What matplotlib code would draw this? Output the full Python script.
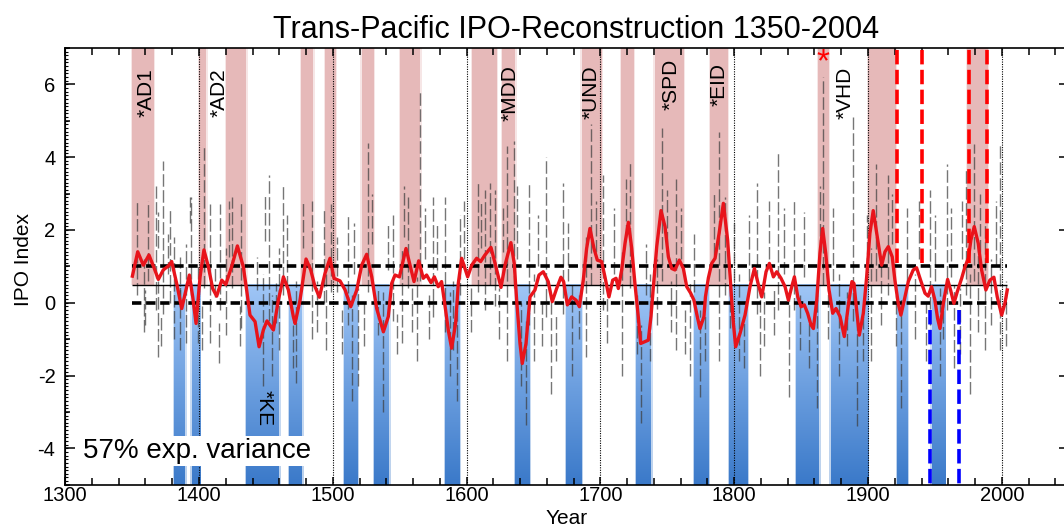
import numpy as np
import matplotlib
matplotlib.use("Agg")
import matplotlib.pyplot as plt
from matplotlib.colors import LinearSegmentedColormap
from matplotlib.ticker import MultipleLocator

plt.rcParams["font.family"] = ["Liberation Sans", "DejaVu Sans"]
plt.rcParams["axes.unicode_minus"] = False

# smoothed IPO reconstruction (red line)
ipo_years = [1350.2, 1354.2, 1358.4, 1362.6, 1366.6, 1369.6, 1373.3, 1377.1, 1379.6, 1383.3,
             1387.1, 1390.3, 1392.8, 1395.3, 1397.8, 1400.8, 1403.7, 1407.0, 1410.2, 1413.2,
             1417.0, 1420.0, 1424.4, 1428.7, 1433.1, 1435.6, 1438.1, 1441.9, 1444.9, 1448.1,
             1450.8, 1455.6, 1459.3, 1463.1, 1466.8, 1470.5, 1471.8, 1475.5, 1480.0, 1483.5,
             1486.7, 1490.0, 1494.2, 1497.9, 1500.9, 1505.4, 1509.2, 1513.4, 1517.9, 1521.6,
             1525.3, 1529.1, 1532.8, 1537.8, 1541.5, 1544.0, 1546.5, 1549.8, 1554.7, 1557.7,
             1560.7, 1564.2, 1567.6, 1570.1, 1573.4, 1575.9, 1578.8, 1581.3, 1584.3, 1586.3,
             1588.8, 1591.8, 1593.8, 1596.3, 1598.8, 1600.8, 1603.8, 1607.5, 1610.5, 1613.7,
             1618.2, 1621.9, 1625.7, 1628.7, 1633.1, 1635.6, 1637.4, 1639.9, 1641.6, 1644.4,
             1647.4, 1651.1, 1654.1, 1657.3, 1661.0, 1664.0, 1667.3, 1670.5, 1672.5, 1675.3,
             1678.5, 1681.8, 1684.3, 1687.2, 1689.7, 1692.2, 1695.2, 1697.7, 1700.9, 1703.4,
             1706.4, 1709.2, 1711.7, 1713.4, 1715.9, 1718.4, 1720.9, 1723.4, 1725.9, 1728.3,
             1730.1, 1733.3, 1735.8, 1737.8, 1739.6, 1742.1, 1745.3, 1748.3, 1750.8, 1753.3,
             1755.7, 1759.0, 1762.0, 1764.5, 1767.5, 1769.9, 1772.4, 1774.4, 1777.4, 1778.5,
             1780.7, 1783.2, 1785.7, 1788.7, 1791.9, 1795.1, 1797.6, 1799.4, 1801.1, 1804.4,
             1808.1, 1811.8, 1815.1, 1818.1, 1820.6, 1823.8, 1826.3, 1829.3, 1831.8, 1835.0,
             1838.0, 1840.5, 1843.0, 1845.0, 1847.5, 1850.0, 1852.4, 1854.9, 1857.4, 1859.2,
             1861.7, 1864.1, 1866.1, 1868.4, 1870.9, 1873.6, 1876.1, 1879.1, 1882.3, 1885.8,
             1888.0, 1889.5, 1891.5, 1893.5, 1896.5, 1899.0, 1901.4, 1903.9, 1906.9, 1910.2,
             1912.7, 1915.2, 1918.1, 1920.1, 1922.6, 1924.6, 1927.1, 1930.1, 1933.8, 1936.3,
             1939.3, 1942.6, 1945.0, 1947.5, 1950.0, 1952.0, 1953.8, 1956.3, 1959.5, 1961.7,
             1964.2, 1966.7, 1970.0, 1972.5, 1975.0, 1976.9, 1979.4, 1982.4, 1984.9, 1988.1,
             1991.1, 1994.1, 1996.6, 1999.9, 2002.3, 2004.1]
ipo_values = [0.73, 1.40, 1.03, 1.31, 0.94, 0.64, 0.90, 1.01, 1.13, 0.53,
              -0.16, 0.35, 0.76, 0.16, -0.57, 0.71, 1.45, 0.99, 0.39, 0.18,
              0.62, 0.50, 0.99, 1.56, 0.99, 0.35, -0.34, -0.52, -1.21, -0.75,
              -0.50, -0.75, 0.07, 0.71, 0.35, -0.38, -0.57, 0.07, 1.20, 0.90,
              0.44, 0.15, 0.81, 1.22, 0.67, 0.60, 0.35, -0.11, 0.35, 1.03,
              1.33, 0.71, -0.16, -0.80, -0.38, 0.53, 0.76, 0.71, 1.49, 1.03,
              0.58, 1.15, 0.67, 0.76, 0.55, 0.71, 0.44, 0.58, -0.20, -0.75,
              -1.25, -0.57, 0.53, 1.22, 0.94, 0.71, 1.03, 1.22, 1.13, 1.31,
              1.52, 0.99, 0.42, 1.03, 1.65, 1.08, 0.07, -1.12, -1.67, -1.12,
              0.16, 0.35, 0.76, 0.85, 0.58, 0.03, 0.39, 0.70, 0.58, -0.06,
              0.16, 0.07, -0.11, 0.62, 1.49, 2.04, 1.49, 1.17, 1.13, 0.71,
              0.16, 0.62, 0.67, 0.39, 0.90, 1.63, 2.21, 1.49, 0.49, -0.38,
              -1.12, -1.07, -1.03, -0.38, 0.44, 1.54, 2.53, 2.09, 1.26, 0.94,
              0.90, 1.17, 0.94, 0.44, 0.26, 0.07, -0.38, -0.71, -0.38, 0.16,
              0.68, 1.08, 1.22, 1.90, 2.73, 1.72, 0.35, -0.57, -1.21, -0.84,
              -0.34, 0.44, 0.94, 0.49, 0.16, 0.85, 1.08, 0.71, 0.85, 0.67,
              0.44, 0.07, 0.44, 0.71, 0.16, -0.11, -0.06, -0.29, -0.61, -0.71,
              0.07, 1.36, 2.04, 1.36, 0.35, -0.29, -0.16, -0.38, -0.93, 0.07,
              0.58, 0.53, -0.20, -0.89, -0.29, 0.71, 1.90, 2.53, 1.81, 1.03,
              1.40, 1.54, 1.26, 0.62, -0.02, -0.34, 0.07, 0.58, 0.90, 0.96,
              0.62, 0.26, 0.18, 0.44, 0.07, -0.43, -0.71, -0.02, 0.64, 0.35,
              -0.02, 0.30, 0.67, 0.99, 1.22, 1.72, 2.09, 1.63, 0.90, 0.35,
              0.62, 0.70, 0.16, -0.34, -0.02, 0.35]

# annual values, drawn as grey dashed stems (year, lower end, upper end)
stem_years = [1354, 1358.7, 1362, 1367.5, 1369.5, 1373.4, 1378, 1381, 1386, 1390,
              1394, 1399, 1403.6, 1408, 1416, 1420, 1425, 1431.5, 1448, 1452,
              1454.7, 1460, 1462.5, 1472.8, 1484.4, 1493.4, 1494.7, 1498.6, 1511.5, 1514.6,
              1519, 1526.5, 1537.3, 1545, 1551.5, 1556, 1563, 1565.2, 1574.7, 1583.7,
              1587.6, 1592.8, 1595.4, 1608.3, 1613.4, 1617.3, 1621.2, 1630, 1635.4, 1640.5,
              1644.3, 1647, 1650, 1659, 1663, 1672, 1679, 1689, 1693, 1702,
              1716, 1722, 1730.6, 1737, 1746, 1756.6, 1767, 1774.7, 1789, 1793,
              1803.3, 1817, 1819, 1833, 1841, 1845, 1861.7, 1866, 1878.6, 1888.6,
              1891.5, 1902, 1906, 1915, 1925, 1946, 1953.8, 1959, 1964.2, 1973.5,
              1976, 1979, 1987.6, 1999,
              1359.6, 1369.6, 1371.6, 1376.6, 1385.8, 1393.3, 1402.5, 1412, 1415, 1422.4,
              1430.6, 1443.1, 1449.3, 1457.5, 1466, 1470, 1478, 1488, 1503, 1507,
              1516, 1523, 1529, 1534, 1541, 1548, 1553, 1559, 1569, 1572,
              1578, 1590, 1598, 1603, 1611, 1624, 1627, 1638, 1653, 1656,
              1667, 1676, 1684, 1697, 1705, 1710, 1719, 1727, 1734, 1742,
              1750, 1753, 1760, 1763, 1770, 1778, 1785, 1797, 1800, 1807,
              1811, 1822, 1826, 1830, 1837, 1849, 1852, 1856, 1864, 1870,
              1874, 1884, 1896, 1899, 1910, 1918, 1921, 1929, 1935, 1938,
              1943, 1950, 1956, 1962, 1969, 1970, 1982, 1984, 1992, 1996,
              2003]
stem_lo = [0.2, -0.8, 0.6, -0.2, -1.5, -0.3, 0.0, -1.0, -1.3, -1.1,
           0.2, -1.1, 0.4, -1.1, -0.2, -0.9, 0.4, -0.7, -2.3, -0.5,
           -2.0, -1.3, 0.2, -2.2, -1.0, 0.0, -1.3, 0.3, -0.6, -2.7,
           -2.3, 0.3, -3.0, -0.5, -1.1, 0.4, -1.6, 0.6, -0.4, -0.8,
           -2.0, -2.7, 0.2, 0.3, -0.2, 0.5, -0.1, -1.6, 0.4, -2.3,
           -3.35, -0.6, -1.6, -0.4, -2.5, -0.3, -2.0, -1.5, 0.5, -0.2,
           -2.0, 0.4, -3.3, -1.6, 0.6, -1.3, -2.0, -2.6, -1.6, 0.2,
           -1.6, -0.3, -2.0, -0.2, -2.6, -0.2, -2.9, 0.5, -2.0, -0.5,
           -3.4, -1.6, 0.6, 0.2, -2.9, -0.6, -2.0, -0.2, -1.8, 0.2,
           -2.5, 0.6, -1.3, -1.3,
           -0.6, 1.5, -1.2, 0.8, 0.07, 2.2, -1.3, 0.16, -1.67, 1.26,
           -1.2, 0.35, 1.7, -0.57, 0.4, -1.8, 1.5, -0.8, 0.3, -1.4,
           0.8, -1.2, 1.6, -0.9, 0.9, -1.4, 1.8, -0.8, 1.2, -1.0,
           0.9, -1.3, 1.2, -0.8, 1.5, -1.0, 1.4, 1.2, 1.0, -1.2,
           -1.6, 0.6, -1.0, 1.4, -1.1, 0.8, 1.8, -1.4, 0.2, -0.6,
           1.6, -0.8, 1.2, -1.4, 0.3, -1.6, 1.3, -0.7, 0.6, -1.8,
           0.6, -1.2, 1.2, -0.9, 0.8, -1.3, 0.7, -1.8, 1.4, -1.0,
           0.6, -1.2, -1.6, 0.9, -0.6, 1.6, -1.2, 0.6, -1.0, 1.2,
           -1.6, 0.6, -1.0, 0.7, -1.4, 1.2, -0.8, 1.4, -0.6, 1.0,
           -1.2]
stem_hi = [2.8, 1.2, 2.8, 3.2, 0.6, 3.9, 2.6, 1.8, 0.5, 1.6,
           2.9, 1.0, 4.3, 2.7, 2.7, 1.5, 2.9, 2.8, 0.8, 3.5,
           0.2, 1.5, 3.2, 0.6, 2.8, 2.6, 0.8, 2.7, 2.4, 0.2,
           0.4, 4.4, 0.3, 2.4, 1.5, 2.9, 0.7, 5.8, 2.9, 2.9,
           0.3, -0.2, 2.4, 3.3, 3.1, 3.3, 3.1, 4.3, 4.45, 0.0,
           -0.5, 3.3, 0.8, 4.0, 0.2, 3.3, 0.5, 1.8, 4.9, 3.5,
           1.4, 3.9, -0.6, 0.8, 4.8, 3.4, 0.6, -0.2, 4.7, 2.9,
           0.8, 3.3, 0.4, 4.1, 0.3, 2.8, 0.2, 6.2, 0.8, 5.1,
           -0.3, 1.5, 3.8, 3.5, 0.1, 3.1, 0.4, 3.8, 0.5, 3.7,
           0.8, 4.35, 2.2, 4.35,
           0.35, 2.5, -0.4, 1.9, 1.26, 2.9, -0.1, 1.0, -0.57, 2.8,
           -0.1, 1.26, 3.0, 0.53, 2.4, -0.6, 2.8, 0.6, 1.8, -0.2,
           2.2, 0.0, 3.0, 0.4, 2.2, -0.3, 3.2, 0.4, 2.6, 0.2,
           2.2, 0.6, 2.8, 0.4, 2.8, 0.4, 2.6, 3.2, 2.4, 0.0,
           -0.3, 2.2, 0.2, 2.8, 0.2, 2.6, 3.4, 0.2, 1.6, 1.2,
           3.1, 0.6, 2.6, -0.2, 1.9, -0.3, 3.0, 0.8, 2.2, -0.5,
           2.4, 0.3, 2.8, 0.4, 2.6, 0.2, 2.5, -0.4, 3.2, 0.6,
           2.6, 0.3, -0.3, 2.4, 1.2, 3.0, 0.2, 2.6, 0.8, 2.8,
           0.0, 2.4, 0.2, 2.6, 0.4, 2.8, 1.6, 3.0, 1.2, 2.8,
           0.6]

# positive (warm) and negative (cool) phases
warm_start = [1350, 1400, 1420.5, 1476.5, 1494, 1521.5, 1550.5, 1604, 1626.5, 1686,
              1715.5, 1740.5, 1782, 1863, 1900, 1974]
warm_end = [1366, 1405.5, 1435.5, 1485.5, 1502.5, 1530.5, 1565.5, 1622.5, 1636.5, 1701,
            1725, 1762.5, 1795.5, 1870.5, 1921, 1989.5]
cool_start = [1381.5, 1394.5, 1435.5, 1467.5, 1508.5, 1531, 1584, 1636.5, 1674.5, 1726.5,
              1770, 1796, 1846, 1872, 1921.5, 1947.5]
cool_end = [1389.5, 1400.5, 1460, 1477, 1518.5, 1542, 1594.5, 1647, 1686, 1737.5,
            1780.5, 1809.5, 1863, 1900, 1929, 1957.5]

red_dash_years = [1921.4, 1940.1, 1975.4, 1988.6]
blue_dash_years = [1946.5, 1967.8]
century_years = [1400, 1500, 1600, 1700, 1800, 1900, 2000]

event_labels = ["*AD1", "*AD2", "*MDD", "*UND", "*SPD", "*EID", "*VHD"]
event_x = [1360.5, 1414.7, 1632.8, 1693, 1752.7, 1789, 1882.7]
event_y = [5.1, 5.1, 5.0, 5.05, 5.3, 5.4, 5.05]

mean_level = 0.5
band_levels = [0.0, 1.0]
y_bottom, y_top = -5, 7

warm_color = "#e6b9b9"
cool_cmap = LinearSegmentedColormap.from_list("cool", ["#3a79c9", "#a0c6f6"])

fig = plt.figure(figsize=(10.64, 5.28), dpi=100)
ax = fig.add_axes([65.2 / 1064, 43.3 / 528, 1003.5 / 1064, 436.8 / 528])

# warm bars, with a soft fringe
for s, e in zip(warm_start, warm_end):
    ax.bar(s - 0.9, y_top - mean_level, width=e - s + 1.8, bottom=mean_level, align="edge",
           color=warm_color, alpha=0.35, lw=0, zorder=1)
    ax.bar(s, y_top - mean_level, width=e - s, bottom=mean_level, align="edge",
           color=warm_color, lw=0, zorder=1)

# cool bars with a vertical gradient
grad = np.linspace(0, 1, 256).reshape(-1, 1)
for s, e in zip(cool_start, cool_end):
    ax.imshow(grad, extent=[s - 0.9, e + 0.9, y_bottom, mean_level], origin="lower",
              aspect="auto", cmap=cool_cmap, alpha=0.35, zorder=1)
    ax.imshow(grad, extent=[s, e, y_bottom, mean_level], origin="lower",
              aspect="auto", cmap=cool_cmap, zorder=1)

for yr in century_years:
    ax.axvline(yr, color="black", lw=0.8, ls=(0, (1, 1.2)), zorder=2)

ax.vlines(stem_years, stem_lo, stem_hi, colors="#3c3c3c", lw=1.0,
          linestyles=[(0, (9, 2.5))], alpha=0.7, zorder=2)

ax.hlines(band_levels, 1350, 2004, colors="black", lw=2.6, linestyles=[(0, (2.6, 1.3))], zorder=3)
ax.hlines(mean_level, 1350, 2004, colors="black", lw=1.0, zorder=3)

ax.plot(ipo_years, ipo_values, color="#e8141b", lw=2.4, solid_joinstyle="round", zorder=4)

ax.vlines(red_dash_years, 1.1, y_top, colors="#ff0000", lw=2.6,
          linestyles=[(0, (4, 1.5))], zorder=5)
ax.vlines(blue_dash_years, -0.2, y_bottom, colors="#0000ff", lw=2.6,
          linestyles=[(0, (4, 1.5))], zorder=5)

for lab, x, y in zip(event_labels, event_x, event_y):
    ax.text(x, y, lab, rotation=90, ha="center", va="bottom", fontsize=15, zorder=6)
ax.text(1448.3, -2.4, "*KE", rotation=270, ha="center", va="top", fontsize=15, zorder=6)
ax.text(1866, 6.6, "*", color="#ff0000", ha="center", va="center", fontsize=24,
        zorder=6, clip_on=False)

ax.text(1313.3, -4.07, "57% exp. variance", fontsize=20, ha="left", va="center", zorder=6,
        bbox=dict(facecolor="white", edgecolor="none", pad=1.5))

ax.set_xlim(1300, 2050)
ax.set_ylim(y_bottom, y_top)
ax.xaxis.set_major_locator(MultipleLocator(100))
ax.xaxis.set_minor_locator(MultipleLocator(20))
ax.yaxis.set_major_locator(MultipleLocator(2))
ax.yaxis.set_minor_locator(MultipleLocator(1))
ax.tick_params(which="both", direction="in", top=True, right=True, labelsize=14.5, width=1.1)
ax.tick_params(axis="y", which="major", length=7, pad=7)
ax.tick_params(axis="y", which="minor", length=3.5)
ax.tick_params(axis="x", which="major", length=6, pad=1)
ax.tick_params(axis="x", which="minor", length=5)
for sp in ax.spines.values():
    sp.set_linewidth(1.2)

sec = ax.secondary_yaxis("left")
sec.set_yticks(np.arange(-5, 7.01, 0.1))
sec.tick_params(direction="in", length=2.5, width=0.8, labelleft=False)

fig.text(576.5 / 1064, 1 - 38 / 528, "Trans-Pacific IPO-Reconstruction 1350-2004",
         ha="center", va="baseline", fontsize=22)
fig.text(566.5 / 1064, 1 - 518 / 528, "Year", ha="center", va="center", fontsize=15)
fig.text(24 / 1064, 1 - 260 / 528, "IPO Index", ha="center", va="center", rotation=90, fontsize=15)

fig.savefig("out.png", dpi=100)
